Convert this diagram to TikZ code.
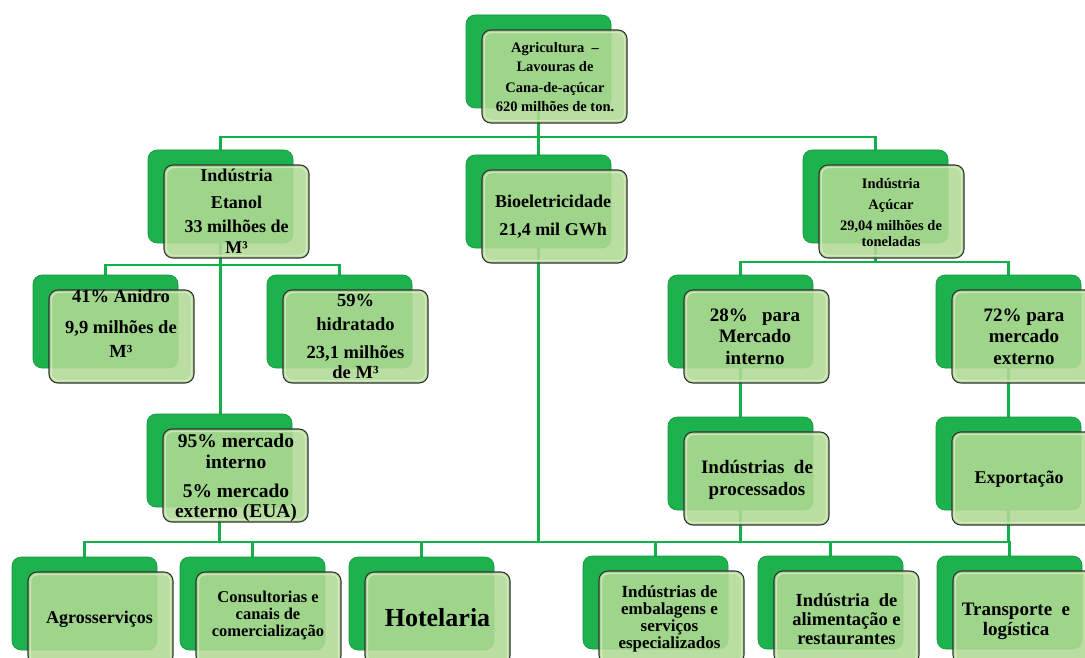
\documentclass[tikz,border=0pt]{standalone}
\usepackage{fontspec}
\setmainfont{Liberation Serif}
\usetikzlibrary{calc}
\pgfdeclarelayer{bg}
\pgfsetlayers{bg,main}
\definecolor{gmid}{HTML}{1EB24E}
\definecolor{gdark}{HTML}{0E963C}
\definecolor{ghi}{HTML}{7ADF95}
\definecolor{fgreen}{HTML}{B0DA94}
\definecolor{fhi}{HTML}{D8EDC8}
\definecolor{lgreen}{HTML}{12AF4B}
\pgfdeclarehorizontalshading{gback}{100bp}{color(0bp)=(gdark); color(3bp)=(ghi); color(9bp)=(gmid); color(92bp)=(gmid); color(97bp)=(ghi!60!gmid); color(100bp)=(gdark)}
\tikzset{
  backbox/.style={draw=gdark, line width=0.6pt, shading=gback, rounded corners=9pt,
    minimum width=145pt, minimum height=93pt, inner sep=0pt},
  frontbox/.style={draw=black!80, line width=1.1pt, fill=fgreen, fill opacity=0.88,
    rounded corners=9pt, minimum width=145pt, minimum height=93pt, inner sep=0pt},
  fronthi/.style={draw=fhi, line width=1.3pt, rounded corners=7pt, draw opacity=0.8},
  txt/.style={anchor=north, inner sep=0pt, align=center, text=black},
  conn/.style={draw=lgreen, line width=2.6pt},
}
% #1 name, #2 back x, #3 back y, #4 text cx, #5 first baseline, #6 size, #7 skip, #8 text
\newcommand\gitem[8]{%
  \node[backbox] (#1b) at ({#2+72.5},{#3+46.5}) {};
  \node[frontbox] (#1) at ({#2+88.5},{#3+61.5}) {};
  \draw[fronthi] ([shift={(3pt,-3pt)}]#1.north west) rectangle ([shift={(-3pt,3pt)}]#1.south east);
  \node[txt, font=\fontsize{#6}{#7}\selectfont\bfseries] (#1t) at ({#4},{#5-0.7*#7}) {\strut #8};
}
\begin{document}
\begin{tikzpicture}[x=1pt,y=-1pt]
\useasboundingbox (0,0) rectangle (1085,658);
\gitem{top}{466}{15}{555}{52}{14.5}{19}{Agricultura~~–\\ Lavouras de\\[2pt] Cana-de-açúcar\\ 620 milhões de ton.}
\gitem{eta}{148}{150}{236.5}{181}{18}{21}{Indústria\\[6pt] Etanol\\[3pt] 33 milhões de\\ M³}
\gitem{bio}{466}{155}{553}{207}{18}{28}{Bioeletricidade\\ 21,4 mil GWh}
\gitem{acu}{803}{150}{891}{188}{14.5}{16}{Indústria\\[5pt] Açúcar\\[5pt] 29,04 milhões de\\ toneladas}
\gitem{ani}{33}{275}{121}{302}{18.5}{24}{41\% Anidro\\[7pt] 9,9 milhões de\\ M³}
\gitem{hid}{267}{275}{355.5}{306}{18.5}{20}{59\%\\[4pt] hidratado\\[8pt] 23,1 milhões\\ de M³}
\gitem{p95}{147}{414}{236}{447}{19.5}{20}{95\% mercado\\[1pt] interno\\[9pt] 5\% mercado\\ externo (EUA)}
\gitem{p28}{668}{275}{755}{321}{19}{21.5}{28\%~~ para\\ Mercado\\ interno}
\gitem{p72}{936}{275}{1024}{321}{19}{21.5}{72\% para\\ mercado\\ externo}
\gitem{proc}{668}{417}{757}{473}{19}{22}{Indústrias~ de\\ processados}
\gitem{expo}{936}{417}{1019}{483}{18}{22}{Exportação}
\gitem{agro}{12}{557}{99.5}{623}{18}{22}{Agrosserviços}
\gitem{cons}{180}{557}{268}{602}{16.5}{17}{Consultorias e\\ canais de\\ comercialização}
\gitem{hotel}{349}{557}{437.5}{626}{26}{28}{Hotelaria}
\gitem{emb}{583}{556}{669.5}{597}{17}{17}{Indústrias de\\ embalagens e\\ serviços\\ especializados}
\gitem{alim}{758}{556}{846.5}{606}{18.5}{19}{Indústria~ de\\ alimentação e\\ restaurantes}
\gitem{trans}{937}{556}{1016}{615}{19}{20}{Transporte~ e\\ logística}
\begin{pgfonlayer}{bg}
  \coordinate (bus1) at (0,137);
  \coordinate (bus2) at (0,265);
  \coordinate (bus3) at (0,262);
  \coordinate (bus4) at (0,542);
  \draw[conn] (topb.south) -- (topb.south |- bus1);
  \draw[conn] (etab.north) |- (acub.north |- bus1) -- (acub.north);
  \draw[conn] (biob.north) -- (biob.north |- bus1);
  \draw[conn] (etab.south) -- (etab.south |- p95b.north);
  \draw[conn] (anib.north) |- (hidb.north |- bus2) -- (hidb.north);
  \draw[conn] (acub.south) -- (acub.south |- bus3);
  \draw[conn] (p28b.north) |- (p72b.north |- bus3) -- (p72b.north);
  \draw[conn] (p28b.south) -- (procb.north);
  \draw[conn] (p72b.south) -- (expob.north);
  \draw[conn] (p95b.south) -- (p95b.south |- bus4);
  \draw[conn] (biob.south) -- (biob.south |- bus4);
  \draw[conn] (procb.south) -- (procb.south |- bus4);
  \draw[conn] (expob.south) -- (expob.south |- bus4);
  \draw[conn] (agrob.north) |- (transb.north |- bus4) -- (transb.north);
  \foreach \n in {consb,hotelb,embb,alimb} \draw[conn] (\n.north) -- (\n.north |- bus4);
\end{pgfonlayer}
\end{tikzpicture}
\end{document}
